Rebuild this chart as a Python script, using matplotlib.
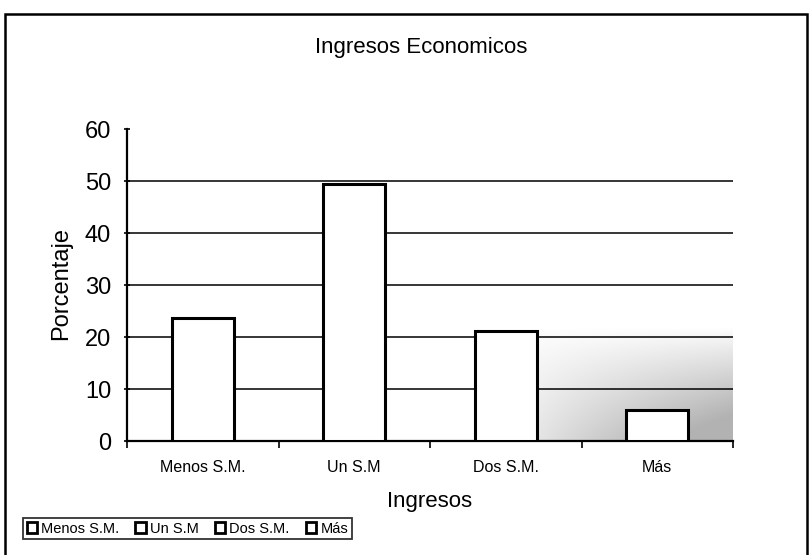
import numpy as np
import matplotlib
matplotlib.use("Agg")
import matplotlib.pyplot as plt
from matplotlib.patches import Patch, Rectangle

plt.rcParams['font.family'] = ['Liberation Sans', 'DejaVu Sans']

categories = ["Menos S.M.", "Un S.M", "Dos S.M.", "Más"]
values = [23.7, 49.4, 21.2, 6.0]
yticks = [0, 10, 20, 30, 40, 50, 60]
title = "Ingresos Economicos"
ylabel = "Porcentaje"
xlabel = "Ingresos"

W, H = 811, 555
fig = plt.figure(figsize=(W / 100, H / 100), dpi=100)
fig.patch.set_facecolor("white")

def fx(px):
    return px / W

def fy(py):
    return 1 - py / H

ax = fig.add_axes([fx(127), fy(441), fx(733) - fx(127), fy(129) - fy(441)])
ax.set_facecolor("white")

x = np.arange(len(categories))

# scanned grey stipple toward lower right
gx = np.linspace(0, 1, 200)
gy = np.linspace(0, 1, 100)
GX, GY = np.meshgrid(gx, gy)
alpha = np.clip((GX - 0.6) / 0.4, 0, 1) ** 0.8 * np.clip((0.36 - GY) / 0.36, 0, 1) ** 0.9
alpha = np.clip(alpha * 0.75, 0, 0.6)
img = np.zeros((100, 200, 4))
img[..., :3] = 0.5
img[..., 3] = alpha
ax.imshow(img, extent=[-0.5, len(categories) - 0.5, 0, 60], origin="lower",
          aspect="auto", zorder=0.5, interpolation="bilinear")

for yv in yticks[1:-1]:
    ax.axhline(yv, color="black", lw=1.1, zorder=1)

ax.bar(x, values, width=0.41, color="white", edgecolor="black", linewidth=2.2, zorder=3)

ax.set_xlim(-0.5, len(categories) - 0.5)
ax.set_ylim(0, 60)
ax.set_yticks(yticks)
ax.set_yticklabels([str(v) for v in yticks], fontsize=17)
ax.set_xticks(x)
ax.set_xticklabels(categories, fontsize=11.5)
ax.tick_params(axis="x", length=0, pad=14)
ax.set_xticks(np.arange(len(categories) + 1) - 0.5, minor=True)
ax.tick_params(axis="x", which="minor", length=5, width=1.2, direction="out", color="black")
ax.tick_params(axis="y", length=5, width=1.2, direction="inout", pad=9, color="black")

for s in ["top", "right"]:
    ax.spines[s].set_visible(False)
for s in ["left", "bottom"]:
    ax.spines[s].set_linewidth(1.6)
    ax.spines[s].set_color("black")

fig.text(fx(421), fy(47), title, fontsize=16, ha="center", va="center")
fig.text(fx(61), fy(283), ylabel, fontsize=17, ha="center", va="center", rotation=90)
fig.text(fx(430), fy(501), xlabel, fontsize=16, ha="center", va="center")

handles = [Patch(facecolor="white", edgecolor="black", linewidth=2.0) for _ in categories]
leg = fig.legend(handles, categories, loc="upper left",
                 bbox_to_anchor=(fx(23), fy(518)), ncol=4, fontsize=10.5,
                 frameon=True, fancybox=False, edgecolor="black",
                 handlelength=0.7, handleheight=0.7, handletextpad=0.3,
                 columnspacing=1.1, borderpad=0.25, borderaxespad=0)
leg.get_frame().set_linewidth(1.3)

border = Rectangle((fx(5), fy(600)), fx(807) - fx(5), fy(14) - fy(600),
                   transform=fig.transFigure, fill=False, edgecolor="black",
                   linewidth=1.8, clip_on=False)
fig.patches.append(border)

fig.savefig("out.png", dpi=100, facecolor="white")
